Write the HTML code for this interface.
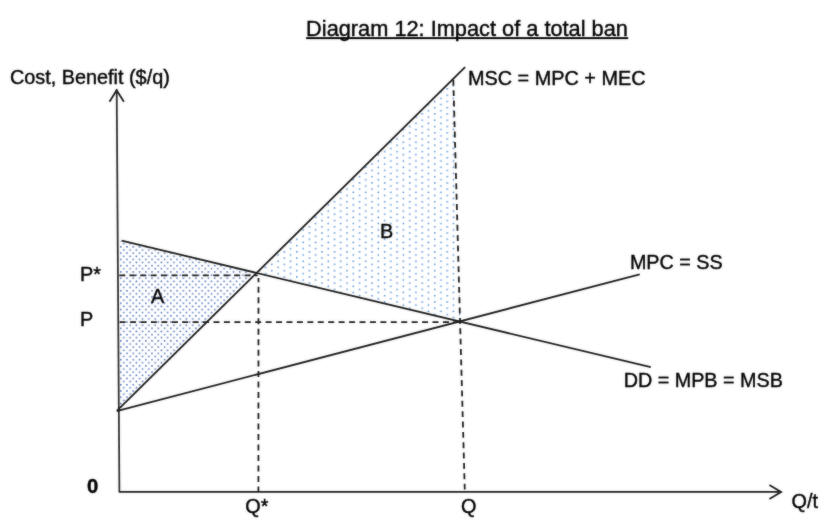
<!DOCTYPE html>
<html>
<head>
<meta charset="utf-8">
<title>Diagram 12: Impact of a total ban</title>
<style>
html,body{margin:0;padding:0;background:#fff;}
body{width:836px;height:532px;overflow:hidden;}
svg{display:block;}
text{font-family:"Liberation Sans",Arial,sans-serif;fill:#000;stroke:#000;stroke-width:0.4px;}
</style>
</head>
<body>
<svg width="836" height="532" viewBox="0 0 836 532">
<defs>
<pattern id="pa" patternUnits="userSpaceOnUse" x="119.90" y="239.80" width="6.266" height="6.266">
<rect x="0" y="0" width="1.6" height="1.6" rx="0.4" fill="#3e66b6"/>
<rect x="3.133" y="3.133" width="1.6" height="1.6" rx="0.4" fill="#3e66b6"/>
</pattern>
<pattern id="pb" patternUnits="userSpaceOnUse" x="383.80" y="200.90" width="12.532" height="6.266">
<rect x="0" y="0" width="1.6" height="1.6" rx="0.4" fill="#4888d2"/>
<rect x="6.266" y="3.133" width="1.6" height="1.6" rx="0.4" fill="#4888d2"/>
</pattern>
<filter id="soft" x="0" y="0" width="836" height="532" filterUnits="userSpaceOnUse" color-interpolation-filters="sRGB"><feGaussianBlur in="SourceGraphic" stdDeviation="0.8" result="b"/><feComposite in="SourceGraphic" in2="b" operator="arithmetic" k1="0" k2="0.62" k3="0.38" k4="0"/></filter>
</defs>
<rect width="836" height="532" fill="#fff"/>
<g filter="url(#soft)">
<!-- shaded areas -->
<polygon points="118.4,240.4 257.2,273.2 119.3,410" fill="url(#pa)"/>
<polygon points="257.2,273.2 453.9,79 460.3,321.5" fill="url(#pb)"/>
<g stroke="#1a1a1a" stroke-width="1.8" fill="none" stroke-linecap="butt">
<!-- axes -->
<line x1="116.7" y1="89.5" x2="119.4" y2="492" stroke="#2c2c2c"/>
<polyline points="109.5,101.8 116.6,90.2 123.9,101.8"/>
<line x1="118.8" y1="491.9" x2="781" y2="491.9"/>
<polyline points="769.4,485 781.1,491.9 769.4,499"/>
<!-- curves -->
<line x1="117.3" y1="410.4" x2="465.1" y2="67.2"/>
<line x1="116.6" y1="411.2" x2="639.7" y2="274.3"/>
<line x1="121.6" y1="240.6" x2="650.8" y2="367.2"/>
<!-- dashed -->
<g stroke-dasharray="6 4.5">
<line x1="119.3" y1="275.45" x2="257.6" y2="275.45" stroke-dasharray="6 4.44"/>
<line x1="119.6" y1="322.2" x2="460" y2="322.2" stroke-dasharray="6 4.43"/>
<line x1="258.5" y1="278" x2="258.4" y2="491.4" stroke-dasharray="6 4.51" stroke-dashoffset="1.7"/>
<line x1="453.3" y1="79.8" x2="464.8" y2="491.4" stroke-dasharray="5.9 4.46"/>
</g>
</g>
<text x="306.1" y="36" font-size="21.78">Diagram 12: Impact of a total ban</text>
<rect x="306.1" y="37.15" width="322.1" height="1.95" fill="#000"/>
<g font-size="19.85">
<text x="9.9" y="84.3">Cost, Benefit ($/q)</text>
<text x="468" y="84.7">MSC = MPC + MEC</text>
<text x="629.9" y="269.2" font-size="19.75">MPC = SS</text>
<text x="623.7" y="387.4" font-size="19.75">DD = MPB = MSB</text>
<text x="791.6" y="508.1">Q/t</text>
<text x="80.1" y="280.8">P*</text>
<text x="80.1" y="326">P</text>
<text x="150.9" y="303.1">A</text>
<text x="380.05" y="238">B</text>
<text x="245.3" y="513">Q*</text>
<text x="461" y="513">Q</text>
</g>
<text x="92.7" y="492.8" font-size="20.3" font-weight="bold" text-anchor="middle">0</text>
</g>
</svg>
</body>
</html>
